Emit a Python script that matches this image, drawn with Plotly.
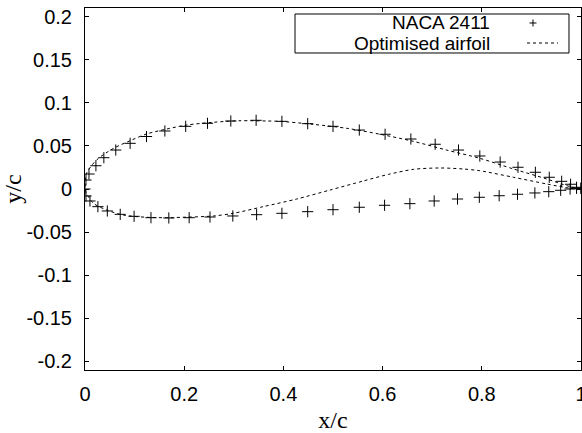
import plotly.graph_objects as go

# NACA 2411 points - upper surface from LE to TE, lower from LE to TE
naca_upper_x = [0.0, 0.002, 0.008, 0.022, 0.038, 0.062, 0.091, 0.124, 0.161, 0.203, 0.247, 0.294,
                0.345, 0.397, 0.449, 0.500, 0.553, 0.605, 0.657, 0.706, 0.753, 0.796, 0.837,
                0.873, 0.908, 0.936, 0.961, 0.979, 0.991, 1.0]
naca_upper_y = [0.0, 0.0104, 0.0174, 0.0270, 0.0363, 0.0452, 0.0530, 0.0609, 0.0673, 0.0727, 0.0762,
                0.0789, 0.0797, 0.0785, 0.0758, 0.0727, 0.0684, 0.0635, 0.0580, 0.0519, 0.0452,
                0.0383, 0.0313, 0.0252, 0.0194, 0.0136, 0.0089, 0.0055, 0.0020, 0.0012]
naca_lower_x = [0.002, 0.010, 0.026, 0.045, 0.071, 0.099, 0.133, 0.169, 0.210, 0.252, 0.298, 0.346,
                0.397, 0.449, 0.500, 0.553, 0.604, 0.655, 0.704, 0.751, 0.795, 0.835, 0.872,
                0.907, 0.935, 0.959, 0.978, 0.991, 1.0]
naca_lower_y = [-0.0081, -0.0139, -0.0205, -0.0255, -0.0294, -0.0317, -0.0333, -0.0336, -0.0333,
                -0.0325, -0.0313, -0.0298, -0.0282, -0.0263, -0.0240, -0.0212, -0.0189, -0.0170,
                -0.0139, -0.0116, -0.0096, -0.0078, -0.0061, -0.0046, -0.0031, -0.0015, 0.0,
                0.0008, 0.0005]

# Optimised airfoil: from TE along upper surface to LE, then lower surface to TE
opt_x = [1.0, 0.978, 0.931, 0.864, 0.796, 0.729, 0.662, 0.595, 0.528, 0.460, 0.393, 0.366, 0.3125,
         0.259, 0.205, 0.165, 0.124, 0.091, 0.057, 0.024, 0.003, 0.0,
         0.003, 0.017, 0.044, 0.077, 0.124, 0.168, 0.192, 0.259, 0.299, 0.359, 0.427, 0.494,
         0.561, 0.612, 0.662, 0.716, 0.763, 0.796, 0.864, 0.931, 0.978, 1.0]
opt_y = [0.0, 0.0027, 0.0116, 0.0232, 0.0356, 0.0452, 0.0553, 0.0635, 0.0704, 0.0750, 0.0785,
         0.0789, 0.0792, 0.0774, 0.0742, 0.0696, 0.0638, 0.0560, 0.0470, 0.0340, 0.0180, 0.0,
         -0.0050, -0.0166, -0.0244, -0.0302, -0.0328, -0.0333, -0.0329, -0.0313, -0.0282,
         -0.0205, -0.0116, -0.0012, 0.0093, 0.0170, 0.0228, 0.0244, 0.0232, 0.0212, 0.0136,
         0.0058, 0.0008, -0.0003]

x_ticks = [0, 0.2, 0.4, 0.6, 0.8, 1.0]
x_tick_text = ["0", "0.2", "0.4", "0.6", "0.8", "1"]
y_ticks = [-0.2, -0.15, -0.1, -0.05, 0, 0.05, 0.1, 0.15, 0.2]
y_tick_text = ["-0.2", "-0.15", "-0.1", "-0.05", "0", "0.05", "0.1", "0.15", "0.2"]

legend_labels = ["NACA 2411", "Optimised airfoil"]

fig = go.Figure()
fig.add_trace(go.Scatter(
    x=opt_x, y=opt_y, mode="lines", name=legend_labels[1],
    line=dict(color="black", width=1, dash="3px,3px", shape="spline", smoothing=0.8),
    showlegend=False))
fig.add_trace(go.Scatter(
    x=naca_upper_x + naca_lower_x, y=naca_upper_y + naca_lower_y, mode="markers",
    name=legend_labels[0],
    marker=dict(symbol="cross-thin", size=8, color="black", line=dict(color="black", width=1)),
    showlegend=False))

tick_font = dict(family="Liberation Sans, Arial, sans-serif", size=20, color="black")
title_font = dict(family="Liberation Serif, Times New Roman, serif", size=24, color="black")

fig.update_xaxes(range=[0, 1], tickvals=x_ticks, ticktext=x_tick_text, showline=True,
                 linecolor="black", linewidth=1, mirror="ticks", ticks="inside", ticklen=4,
                 tickcolor="black", showgrid=False, zeroline=False, tickfont=tick_font,
                 ticklabelstandoff=6, ticklabeloverflow="allow", automargin=False,
                 title=dict(text="x/c", font=title_font, standoff=8))
fig.update_yaxes(range=[-0.21, 0.21], tickvals=y_ticks, ticktext=y_tick_text, showline=True,
                 linecolor="black", linewidth=1, mirror="ticks", ticks="inside", ticklen=4,
                 tickcolor="black", showgrid=False, zeroline=False, tickfont=tick_font,
                 ticklabelstandoff=8, automargin=False,
                 title=dict(text="y/c", font=title_font, standoff=14))

# custom legend (gnuplot style: text right-aligned, sample on the right)
legend_font = dict(family="Liberation Sans, Arial, sans-serif", size=19, color="black")
shapes = [
    dict(type="rect", xref="paper", yref="paper", x0=0.4234, x1=0.9758, y0=0.8757, y1=0.9834,
         line=dict(color="black", width=1), fillcolor="white", layer="above"),
    dict(type="line", xref="paper", yref="paper", x0=0.8911, x1=0.9536, y0=0.9033, y1=0.9033,
         line=dict(color="black", width=1, dash="3px,3px"), layer="above"),
    dict(type="line", xref="paper", yref="paper", xsizemode="pixel", xanchor=0.9032,
         x0=-3.5, x1=3.5, y0=0.9586, y1=0.9586, line=dict(color="black", width=1), layer="above"),
    dict(type="line", xref="paper", yref="paper", ysizemode="pixel", yanchor=0.9586,
         x0=0.9032, x1=0.9032, y0=-3.5, y1=3.5, line=dict(color="black", width=1), layer="above"),
]
annotations = [
    dict(text=legend_labels[0], xref="paper", yref="paper", x=0.8206, y=0.9586,
         xanchor="right", yanchor="middle", showarrow=False, font=legend_font),
    dict(text=legend_labels[1], xref="paper", yref="paper", x=0.8206, y=0.9033,
         xanchor="right", yanchor="middle", showarrow=False, font=legend_font),
]

fig.update_layout(width=582, height=433, margin=dict(l=85, r=1, t=8, b=63),
                  paper_bgcolor="white", plot_bgcolor="white", shapes=shapes,
                  annotations=annotations, showlegend=False)

fig.write_html("out.html")
